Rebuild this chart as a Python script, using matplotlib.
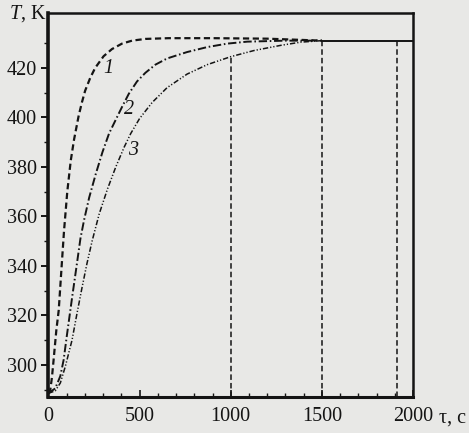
import numpy as np
import matplotlib
matplotlib.use("Agg")
import matplotlib.pyplot as plt

# curve 1 (dashed)
tau1 = [0, 11, 20, 29, 44, 57, 66, 75, 86, 104, 123, 141, 166, 184, 202, 230, 257, 303,
        349, 404, 459, 532, 660, 900, 1200, 1500]
T1 = [288.5, 290, 295, 302, 314, 322, 332, 342, 354, 370, 382.5, 391, 400.5, 406, 410.8,
      416, 420, 424.7, 427.6, 429.8, 431, 431.7, 432, 432, 431.8, 431]

# curve 2 (dash-dot)
tau2 = [0, 38, 66, 84, 102, 130, 157, 176, 196, 224, 260, 297, 333, 376, 404, 441, 486, 532,
        587, 651, 761, 871, 981, 1091, 1300, 1500]
T2 = [288.5, 290.5, 295.5, 302, 312, 327, 341, 351, 358.5, 367.6, 377.1, 386, 393.5, 400,
      404.2, 409.5, 414.5, 418, 421.3, 423.8, 426.4, 428.4, 429.8, 430.6, 431, 431]

# curve 3 (dash-dot-dot)
tau3 = [0, 38, 66, 93, 130, 157, 185, 212, 240, 279, 324, 370, 416, 452, 500, 569, 651, 761,
        871, 999, 1127, 1274, 1384, 1500]
T3 = [288.5, 289.5, 292.7, 299.3, 310, 320.7, 331.3, 341, 350, 361, 371, 380, 388, 393.5,
      399.5, 406, 412, 417.5, 421.3, 424.5, 427, 429.1, 430.4, 431]

# steady state
tau_ss = [1500, 2000]
T_ss = [431, 431]

# vertical marker lines
tau_marks = [1000, 1500, 1910]

curve_labels = ["1", "2", "3"]
label_pos_tau = [331, 441, 462]
label_pos_T = [419.6, 403.3, 386.5]

plt.rcParams["font.family"] = "Liberation Serif"
plt.rcParams["mathtext.fontset"] = "custom"
plt.rcParams["mathtext.rm"] = "Liberation Serif"
plt.rcParams["mathtext.it"] = "Liberation Serif:italic"

ink = "#141414"
paper = "#e8e8e6"

fig = plt.figure(figsize=(4.69, 4.33), dpi=100, facecolor=paper)
ax = fig.add_axes([0.103, 0.083, 0.778, 0.886])
ax.set_facecolor(paper)

ax.plot(tau1, T1, color=ink, lw=1.6, dashes=(2.8, 1.6))
ax.plot(tau2, T2, color=ink, lw=1.4, dashes=(4.3, 1.4, 0.8, 1.4))
ax.plot(tau3, T3, color=ink, lw=1.1, dashes=(3.5, 1.3, 0.8, 1.3, 0.8, 1.3))
ax.plot(tau_ss, T_ss, color=ink, lw=1.4)

y0 = 287
for t in tau_marks:
    top = np.interp(t, tau3, T3) if t <= tau3[-1] else T_ss[0]
    ax.plot([t, t], [y0, top], color=ink, lw=1.1, dashes=(3.6, 2.0))

for lab, tx, ty in zip(curve_labels, label_pos_tau, label_pos_T):
    ax.text(tx, ty, lab, fontsize=14.5, style="italic", color=ink, ha="center", va="center")

ax.set_xlim(0, 2000)
ax.set_ylim(y0, 442)
ax.set_xticks([0, 500, 1000, 1500, 2000])
ax.set_xticks(np.arange(0, 2001, 100), minor=True)
ax.set_yticks([300, 320, 340, 360, 380, 400, 420])
ax.set_yticks(np.arange(290, 431, 10), minor=True)

ax.tick_params(axis="x", which="major", direction="in", length=5, width=1.2, pad=7,
               labelsize=14.5, colors=ink)
ax.tick_params(axis="x", which="minor", direction="in", length=3, width=1.0, colors=ink)
ax.tick_params(axis="y", which="major", direction="out", length=5, width=1.4, pad=3,
               labelsize=14.5, colors=ink)
ax.tick_params(axis="y", which="minor", direction="out", length=3, width=1.0, colors=ink)

ax.spines["left"].set_linewidth(2.6)
ax.spines["bottom"].set_linewidth(2.2)
ax.spines["top"].set_linewidth(1.8)
ax.spines["right"].set_linewidth(1.8)
for s in ax.spines.values():
    s.set_color(ink)

ax.text(-0.004, 1.0, "$T$, K", transform=ax.transAxes, fontsize=14.5, color=ink,
        ha="right", va="center")
ax.text(1.072, -0.055, "τ, c", transform=ax.transAxes, fontsize=14.5, color=ink,
        ha="left", va="center")

fig.savefig("out.png", dpi=100, facecolor=paper)
